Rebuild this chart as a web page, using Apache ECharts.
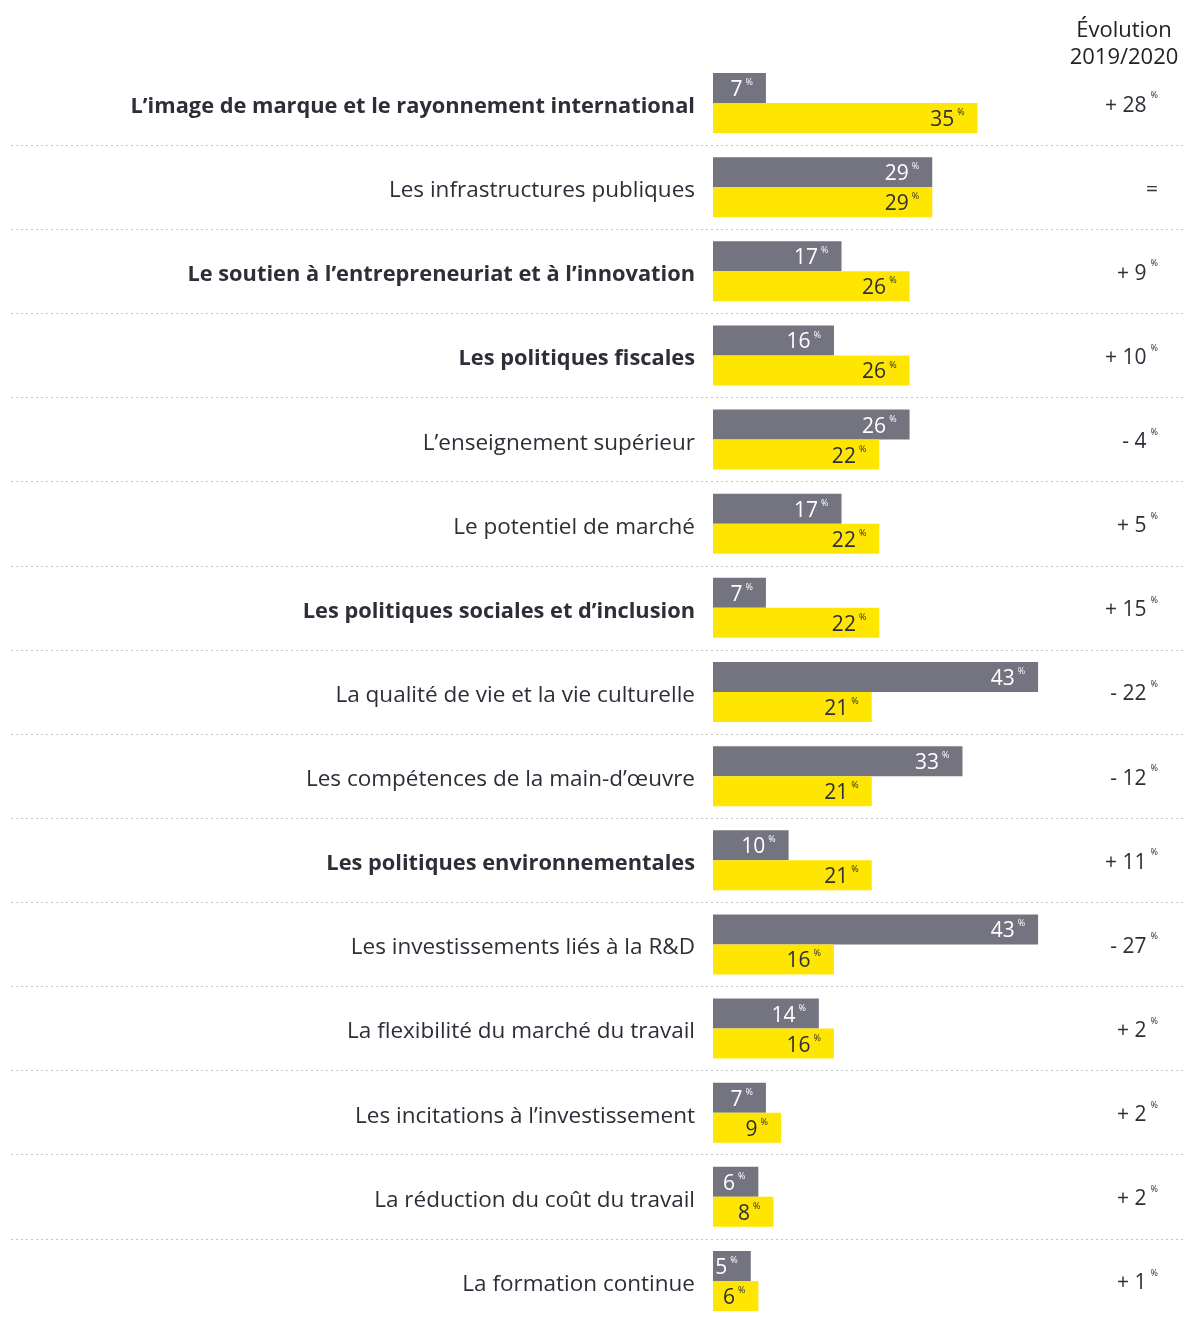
<!DOCTYPE html>
<html>
<head>
<meta charset="utf-8">
<script src="https://cdn.jsdelivr.net/npm/echarts@6/dist/echarts.min.js"></script>
<style>
  html, body { margin: 0; padding: 0; background: #fff; }
  #chart { width: 1184px; height: 1326px; }
</style>
</head>
<body>
<div id="chart"></div>
<script>
  // critères, de haut en bas
  var categories = [
    'L’image de marque et le rayonnement international',
    'Les infrastructures publiques',
    'Le soutien à l’entrepreneuriat et à l’innovation',
    'Les politiques fiscales',
    'L’enseignement supérieur',
    'Le potentiel de marché',
    'Les politiques sociales et d’inclusion',
    'La qualité de vie et la vie culturelle',
    'Les compétences de la main-d’œuvre',
    'Les politiques environnementales',
    'Les investissements liés à la R&D',
    'La flexibilité du marché du travail',
    'Les incitations à l’investissement',
    'La réduction du coût du travail',
    'La formation continue'
  ];
  var boldRows = [0, 2, 3, 6, 9];
  var values2019 = [7, 29, 17, 16, 26, 17, 7, 43, 33, 10, 43, 14, 7, 6, 5];
  var values2020 = [35, 29, 26, 26, 22, 22, 22, 21, 21, 21, 16, 16, 9, 8, 6];
  var evolution = ['+ 28', '=', '+ 9', '+ 10', '- 4', '+ 5', '+ 15', '- 22', '- 12', '+ 11', '- 27', '+ 2', '+ 2', '+ 2', '+ 1'];

  var FONT = '"Open Sans", "Noto Sans", sans-serif';
  var GREY = '#747480';
  var YELLOW = '#FFE600';
  var DARK = '#2e2e38';

  var chart = echarts.init(document.getElementById('chart'));

  function barLabel(color) {
    return {
      show: true,
      position: 'insideRight',
      distance: 13,
      offset: [0, 2],
      formatter: function (p) { return '{v|' + p.value + '}{p|%}'; },
      rich: {
        v: { fontFamily: FONT, fontSize: 21, color: color, lineHeight: 24 },
        p: { fontFamily: FONT, fontSize: 9, color: color, verticalAlign: 'top', padding: [0, 0, 10, 3] }
      }
    };
  }

  var option = {
    animation: false,
    title: {
      text: 'Évolution\n2019/2020',
      left: 1119,
      top: 12,
      textAlign: 'center',
      textStyle: { fontFamily: FONT, fontSize: 22, fontWeight: 'normal', color: '#222', lineHeight: 27 }
    },
    // grille 0 : les barres ; grille 1 : les séparateurs pointillés pleine largeur
    grid: [
      { left: 713, right: 0, top: 61, bottom: 3, containLabel: false, outerBoundsMode: 'none' },
      { left: 11, right: 0, top: 61, bottom: 3, containLabel: false, outerBoundsMode: 'none' }
    ],
    xAxis: [
      { type: 'value', gridIndex: 0, min: 0, max: 62.3, show: false },
      { type: 'value', gridIndex: 1, min: 0, max: 1, show: false }
    ],
    yAxis: [{
      type: 'category',
      gridIndex: 0,
      data: categories,
      inverse: true,
      axisLine: { show: false },
      axisTick: { show: false },
      splitLine: { show: false },
      axisLabel: {
        margin: 18,
        formatter: function (v, i) {
          return (boldRows.indexOf(i) >= 0 ? '{b|' : '{n|') + v + '}';
        },
        rich: {
          n: { fontFamily: FONT, fontSize: 22.5, color: DARK, padding: [7, 0, 0, 0] },
          b: { fontFamily: FONT, fontSize: 21.8, fontWeight: 'bold', color: DARK, padding: [7, 0, 0, 0] }
        }
      }
    }, {
      type: 'category',
      gridIndex: 0,
      data: evolution,
      inverse: true,
      position: 'right',
      axisLine: { show: false, onZero: false },
      axisTick: { show: false },
      splitLine: { show: false },
      axisLabel: {
        inside: true,
        margin: 26,
        formatter: function (v) {
          return v === '=' ? '{v|=}' : '{v|' + v + '}{p|%}';
        },
        rich: {
          v: { fontFamily: FONT, fontSize: 21, color: DARK, lineHeight: 24, padding: [5, 0, 0, 0] },
          p: { fontFamily: FONT, fontSize: 9, color: DARK, verticalAlign: 'top', padding: [0, 0, 8, 4] }
        }
      }
    }, {
      type: 'category',
      gridIndex: 1,
      data: categories,
      inverse: true,
      axisLine: { show: false },
      axisTick: { show: false },
      axisLabel: { show: false },
      splitLine: {
        show: true,
        showMinLine: false,
        showMaxLine: false,
        lineStyle: { color: '#c4c4c4', type: [2, 3], width: 1 }
      }
    }],
    series: [{
      name: '2019',
      type: 'bar',
      data: values2019,
      barWidth: 30,
      barGap: 0,
      itemStyle: { color: GREY },
      label: barLabel('#ffffff')
    }, {
      name: '2020',
      type: 'bar',
      data: values2020,
      barWidth: 30,
      barGap: 0,
      itemStyle: { color: YELLOW },
      label: barLabel(DARK)
    }]
  };

  chart.setOption(option);
</script>
</body>
</html>
